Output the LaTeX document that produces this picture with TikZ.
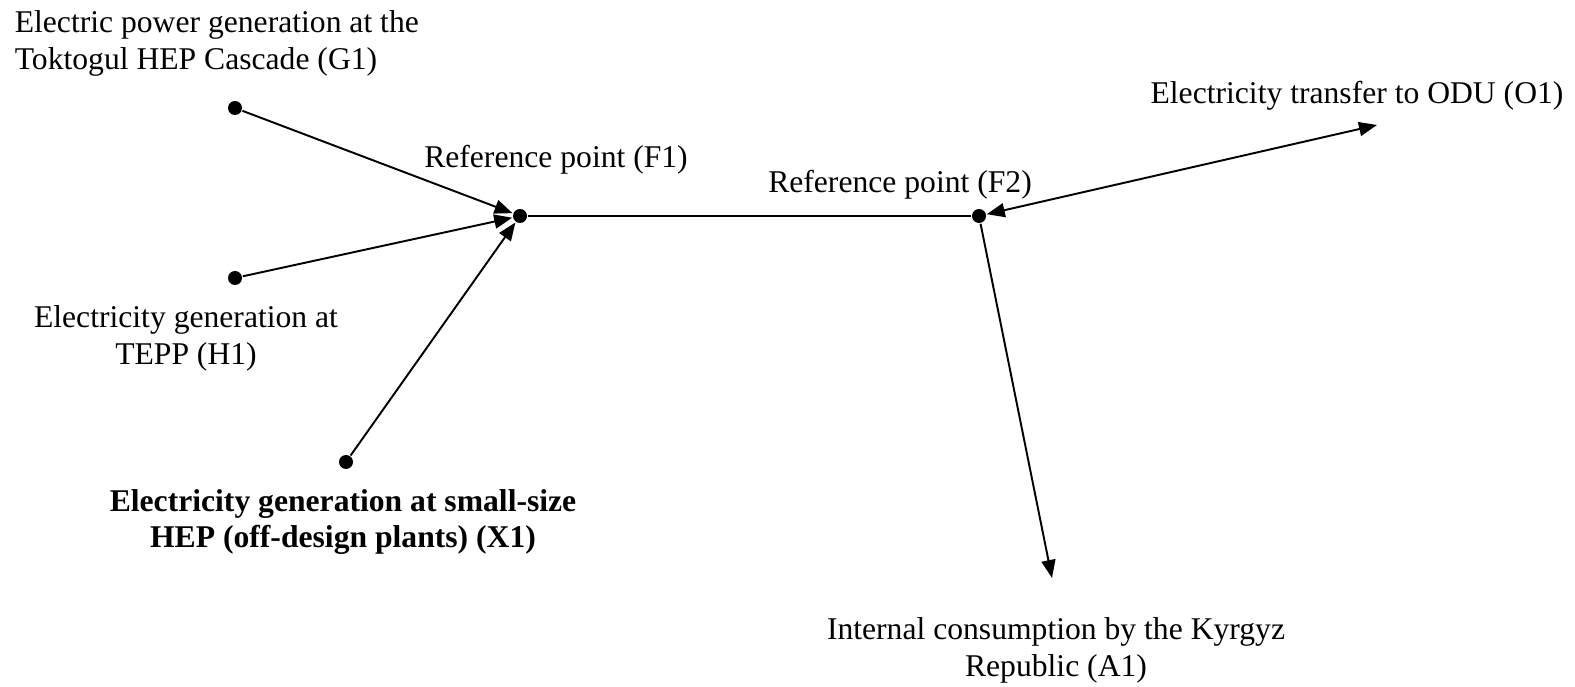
\documentclass[tikz,border=0pt]{standalone}
\usepackage{fontspec}
\setmainfont{Liberation Serif}
\usetikzlibrary{arrows.meta}
\begin{document}
\begin{tikzpicture}[x=0.2mm,y=-0.2mm,line width=1.1pt,
    dot/.style={inner sep=0pt,minimum size=0.28cm,fill,circle},
    lbl/.style={font=\fontsize{18}{21}\selectfont,align=center},
    >={Triangle[length=0.36cm,width=0.28cm]}]
            \useasboundingbox (0,0) rectangle (1575,687);
            \node[dot] (g1) at (235,108) {};
            \node[dot] (h1) at (235,278) {};
            \node[dot] (x1) at (346,462) {};
            \node[dot] (f1) at (520,216) {};
            \node[dot] (f2) at (979,216) {};
            \coordinate (o1) at (1377,125);
            \coordinate (a1) at (1052,578);
            \draw[->] (g1) -- (f1);
            \draw[->] (h1) -- (f1);
            \draw[->] (x1) -- (f1);
            \draw (f1) -- (f2);
            \draw[<->] (f2) -- (o1);
            \draw[->] (f2) -- (a1);
            \node[lbl,align=left,anchor=west] (g1txt) at (8,43) {Electric power generation at the\\Toktogul HEP Cascade (G1)};
            \node[lbl] (f1txt) at (556,160) {Reference point (F1)};
            \node[lbl] (f2txt) at (900,185) {Reference point (F2)};
            \node[lbl] (h1txt) at (186,338) {Electricity generation at\\TEPP (H1)};
            \node[lbl,font=\fontsize{18}{21}\selectfont\bfseries] (x1txt) at (343,522) {Electricity generation at small-size\\HEP (off-design plants) (X1)};
            \node[lbl] (o1txt) at (1357,96) {Electricity transfer to ODU (O1)};
            \node[lbl] (a1txt) at (1056,650) {Internal consumption by the Kyrgyz\\Republic (A1)};
\end{tikzpicture}
\end{document}
